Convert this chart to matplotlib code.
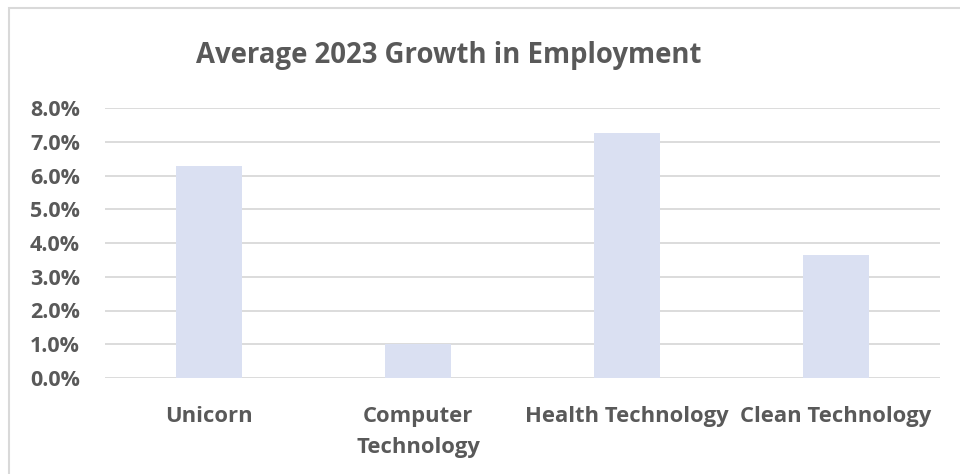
import matplotlib
matplotlib.use("Agg")
import matplotlib.pyplot as plt
from matplotlib.patches import Rectangle
from matplotlib.ticker import FuncFormatter

categories = ["Unicorn", "Computer\nTechnology", "Health Technology", "Clean Technology"]
values = [0.0628, 0.0100, 0.0727, 0.0364]
yticks = [0.0, 0.01, 0.02, 0.03, 0.04, 0.05, 0.06, 0.07, 0.08]

plt.rcParams['font.family'] = ['Open Sans', 'DejaVu Sans']
W, H = 960, 474
fig = plt.figure(figsize=(W/100, H/100), dpi=100)
txt = '#595959'

# chart border (top/left visible)
fig.patches.append(Rectangle((9/W, -0.1), 1.2, (H-8)/H + 0.1, transform=fig.transFigure,
                             fill=False, edgecolor='#d9d9d9', linewidth=1.5))

ax = fig.add_axes([105/W, 1-378/H, (940-105)/W, (378-108)/H])
x = range(len(categories))
ax.bar(x, values, width=0.316, color='#dae0f2', zorder=2)
ax.set_xlim(-0.5, len(categories)-0.5)
ax.set_ylim(0, 0.08)
ax.set_yticks(yticks)
ax.yaxis.set_major_formatter(FuncFormatter(lambda v, p: f"{v*100:.1f}%"))
ax.grid(axis='y', color='#d9d9d9', linewidth=1.3, zorder=0)
for s in ax.spines.values():
    s.set_visible(False)
ax.tick_params(axis='both', length=0, colors=txt)
ax.tick_params(axis='y', pad=18, labelsize=15.5)
ax.tick_params(axis='x', pad=20.5)
ax.set_xticks(list(x))
ax.set_xticklabels(categories, fontweight='bold', color=txt, fontsize=15.8, linespacing=1.6, va='top')
for lab in ax.get_yticklabels():
    lab.set_fontweight('bold')

fig.text((199+698)/2/W, 1-55/H, "Average 2023 Growth in Employment", ha='center', va='center',
         fontsize=19.8, fontweight='bold', color=txt)

fig.savefig("out.png", dpi=100, facecolor='white')
